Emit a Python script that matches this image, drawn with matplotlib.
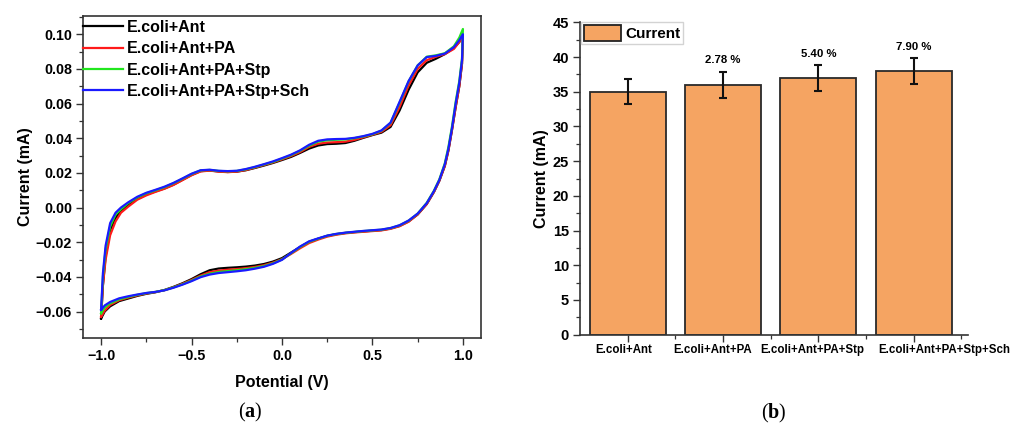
import numpy as np
import matplotlib
matplotlib.use("Agg")
import matplotlib.pyplot as plt
from matplotlib.ticker import MultipleLocator, FixedLocator
from matplotlib.transforms import ScaledTranslation

plt.rcParams['font.family'] = ['Liberation Sans', 'DejaVu Sans']
plt.rcParams['font.weight'] = 'bold'
plt.rcParams['mathtext.fontset'] = 'custom'
plt.rcParams['mathtext.rm'] = 'Liberation Serif'
plt.rcParams['mathtext.bf'] = 'Liberation Serif:bold'

# ---------------- Panel (a): cyclic voltammograms ----------------
series_names = ["E.coli+Ant", "E.coli+Ant+PA", "E.coli+Ant+PA+Stp", "E.coli+Ant+PA+Stp+Sch"]
series_colors = ["#000000", "#ff1a1a", "#22e61e", "#1a1aff"]

# forward (anodic) sweep potentials, V
pot_fwd = [-1.0, -0.99, -0.975, -0.95, -0.92, -0.89, -0.85, -0.8, -0.75, -0.7, -0.65, -0.6,
           -0.55, -0.5, -0.45, -0.4, -0.35, -0.3, -0.25, -0.2, -0.15, -0.1, -0.05, 0.0,
           0.05, 0.1, 0.15, 0.2, 0.25, 0.3, 0.35, 0.4, 0.45, 0.5, 0.55, 0.6, 0.65, 0.7,
           0.75, 0.8, 0.85, 0.9, 0.95, 0.98, 1.0]
# reverse (cathodic) sweep potentials, V
pot_rev = [1.0, 0.995, 0.98, 0.96, 0.94, 0.92, 0.9, 0.87, 0.84, 0.8, 0.75, 0.7, 0.65, 0.6,
           0.55, 0.5, 0.45, 0.4, 0.35, 0.3, 0.25, 0.2, 0.15, 0.1, 0.05, 0.0, -0.05, -0.1,
           -0.15, -0.2, -0.25, -0.3, -0.35, -0.4, -0.45, -0.5, -0.55, -0.6, -0.65, -0.7,
           -0.75, -0.8, -0.85, -0.9, -0.95, -0.98, -1.0]

cur_fwd_ant = [-0.064, -0.045, -0.028, -0.013, -0.006, -0.002, 0.0015, 0.005, 0.0075, 0.0093,
               0.011, 0.0132, 0.016, 0.0188, 0.021, 0.0214, 0.0208, 0.0205, 0.0207, 0.0215,
               0.0228, 0.0242, 0.0257, 0.0274, 0.0292, 0.0315, 0.034, 0.0358, 0.0366, 0.0368,
               0.0372, 0.0385, 0.0402, 0.0418, 0.0432, 0.0465, 0.056, 0.068, 0.078, 0.0835,
               0.0858, 0.0885, 0.092, 0.0955, 0.099]
cur_rev_ant = [0.099, 0.083, 0.070, 0.058, 0.045, 0.033, 0.024, 0.0155, 0.009, 0.002, -0.004,
               -0.008, -0.0106, -0.0121, -0.013, -0.0134, -0.0138, -0.0142, -0.0147, -0.0154,
               -0.0164, -0.018, -0.0198, -0.0228, -0.026, -0.0292, -0.0312, -0.0326, -0.0335,
               -0.0341, -0.0345, -0.0348, -0.0352, -0.0362, -0.0385, -0.0413, -0.0437, -0.0458,
               -0.0476, -0.0489, -0.0498, -0.051, -0.0525, -0.054, -0.057, -0.060, -0.064]

cur_fwd_pa = [-0.063, -0.045, -0.030, -0.016, -0.008, -0.003, 0.0005, 0.0045, 0.007, 0.009,
              0.0108, 0.013, 0.0158, 0.0186, 0.0208, 0.0213, 0.0207, 0.0204, 0.0207, 0.0216,
              0.023, 0.0245, 0.026, 0.0278, 0.0297, 0.032, 0.035, 0.0368, 0.0375, 0.0377,
              0.038, 0.039, 0.0405, 0.042, 0.0437, 0.0475, 0.058, 0.0705, 0.080, 0.085,
              0.087, 0.0885, 0.0915, 0.0955, 0.098]
cur_rev_pa = [0.098, 0.083, 0.070, 0.058, 0.045, 0.033, 0.024, 0.0155, 0.009, 0.002, -0.004,
              -0.0082, -0.0108, -0.0123, -0.0132, -0.0136, -0.014, -0.0144, -0.0149, -0.0157,
              -0.0168, -0.0185, -0.0205, -0.0235, -0.0268, -0.0298, -0.0318, -0.0333, -0.0343,
              -0.035, -0.0355, -0.0359, -0.0364, -0.0373, -0.0393, -0.0418, -0.044, -0.046,
              -0.0477, -0.0488, -0.0496, -0.0507, -0.052, -0.0535, -0.0562, -0.0595, -0.063]

cur_fwd_stp = [-0.061, -0.040, -0.024, -0.011, -0.004, -0.001, 0.0025, 0.0058, 0.0082, 0.0099,
               0.0117, 0.014, 0.0166, 0.0193, 0.0214, 0.0217, 0.0211, 0.0209, 0.0211, 0.022,
               0.0233, 0.0248, 0.0263, 0.0282, 0.0302, 0.0327, 0.0357, 0.038, 0.0388, 0.0391,
               0.0393, 0.040, 0.041, 0.0423, 0.0443, 0.0488, 0.0605, 0.0728, 0.082, 0.087,
               0.0878, 0.089, 0.093, 0.098, 0.103]
cur_rev_stp = [0.103, 0.086, 0.073, 0.061, 0.047, 0.035, 0.0255, 0.0163, 0.0097, 0.0027, -0.0035,
               -0.0076, -0.0103, -0.0119, -0.0128, -0.0132, -0.0136, -0.0141, -0.0146, -0.0153,
               -0.0163, -0.018, -0.0198, -0.0228, -0.0264, -0.030, -0.0322, -0.0338, -0.0348,
               -0.0356, -0.0362, -0.0367, -0.0372, -0.0382, -0.0398, -0.0422, -0.0443, -0.0461,
               -0.0477, -0.0487, -0.0494, -0.0504, -0.0516, -0.053, -0.0553, -0.0577, -0.061]

cur_fwd_sch = [-0.059, -0.038, -0.022, -0.009, -0.003, 0.000, 0.003, 0.0062, 0.0085, 0.0102,
               0.012, 0.0142, 0.0168, 0.0195, 0.0215, 0.0218, 0.0212, 0.021, 0.0212, 0.0222,
               0.0235, 0.025, 0.0266, 0.0285, 0.0305, 0.033, 0.0362, 0.0385, 0.0393, 0.0395,
               0.0396, 0.0402, 0.0412, 0.0425, 0.0445, 0.049, 0.061, 0.073, 0.082, 0.0868,
               0.0875, 0.0888, 0.0925, 0.0965, 0.100]
cur_rev_sch = [0.100, 0.085, 0.072, 0.060, 0.046, 0.034, 0.025, 0.016, 0.0095, 0.0025, -0.0035,
               -0.0075, -0.0102, -0.0118, -0.0127, -0.0131, -0.0135, -0.014, -0.0145, -0.0152,
               -0.0162, -0.0178, -0.0195, -0.0225, -0.0262, -0.0302, -0.0325, -0.0342, -0.0353,
               -0.0362, -0.0368, -0.0373, -0.0378, -0.0387, -0.0402, -0.0425, -0.0445, -0.0463,
               -0.0478, -0.0487, -0.0493, -0.0502, -0.0512, -0.0524, -0.0545, -0.0565, -0.059]

cur_fwd = [cur_fwd_ant, cur_fwd_pa, cur_fwd_stp, cur_fwd_sch]
cur_rev = [cur_rev_ant, cur_rev_pa, cur_rev_stp, cur_rev_sch]

# ---------------- Panel (b): peak currents ----------------
bar_labels = ["E.coli+Ant", "E.coli+Ant+PA", "E.coli+Ant+PA+Stp", "E.coli+Ant+PA+Stp+Sch"]
bar_values = [35.0, 36.0, 37.0, 38.0]
bar_errors = [1.8, 1.9, 1.9, 1.9]
pct_labels = ["", "2.78 %", "5.40 %", "7.90 %"]

W, H = 1029, 428
fig = plt.figure(figsize=(W / 100, H / 100), dpi=100)

# --- (a)
axa = fig.add_axes([83 / W, 1 - 337.5 / H, (481 - 83) / W, (337.5 - 16) / H])
for name, col, cf, cr in zip(series_names, series_colors, cur_fwd, cur_rev):
    x = list(pot_fwd) + list(pot_rev)
    y = list(cf) + list(cr)
    axa.plot(x, y, color=col, lw=1.6, label=name, solid_joinstyle='round')
axa.set_xlim(-1.1, 1.1)
axa.set_ylim(-0.075, 0.1105)
axa.xaxis.set_major_locator(FixedLocator([-1.0, -0.5, 0.0, 0.5, 1.0]))
axa.xaxis.set_minor_locator(MultipleLocator(0.25))
axa.yaxis.set_major_locator(FixedLocator([-0.06, -0.04, -0.02, 0.0, 0.02, 0.04, 0.06, 0.08, 0.10]))
axa.yaxis.set_minor_locator(MultipleLocator(0.01))
axa.set_xticklabels(["\u22121.0", "\u22120.5", "0.0", "0.5", "1.0"])
axa.set_yticklabels(["\u22120.06", "\u22120.04", "\u22120.02", "0.00", "0.02", "0.04", "0.06", "0.08", "0.10"])
axa.tick_params(which='major', direction='out', length=5, width=1.0, labelsize=10.3, pad=3, color='#333333')
axa.tick_params(which='minor', direction='out', length=3, width=0.9, color='#333333')
for lab in axa.get_xticklabels() + axa.get_yticklabels():
    lab.set_fontweight('bold')
for sp in axa.spines.values():
    sp.set_linewidth(1.2)
    sp.set_color('#333333')
axa.set_xlabel("Potential (V)", fontsize=11.5, fontweight='bold')
axa.set_ylabel("Current (mA)", fontsize=11.5, fontweight='bold')
axa.xaxis.set_label_coords(0.5, -0.117)
axa.yaxis.set_label_coords(-0.126, 0.5)
leg = axa.legend(loc='upper left', bbox_to_anchor=(-0.003, 0.993), frameon=False,
                 prop={'weight': 'bold', 'size': 11.5}, handlelength=2.45, handletextpad=0.3,
                 labelspacing=0.4, borderaxespad=0.0, borderpad=0.1)

# --- (b)
axb = fig.add_axes([580 / W, 1 - 334.7 / H, (968 - 580) / W, (334.7 - 22.3) / H])
xpos = np.arange(len(bar_values))
axb.bar(xpos, bar_values, width=0.8, color='#F5A462', edgecolor='#2a2a2a', linewidth=1.3,
        label='Current', zorder=2)
axb.errorbar(xpos, bar_values, yerr=bar_errors, fmt='none', ecolor='#111111', elinewidth=1.5,
             capsize=3, capthick=1.5, zorder=3)
for xi, v, e, t in zip(xpos, bar_values, bar_errors, pct_labels):
    if t:
        axb.text(xi, v + e + 1.6, t, ha='center', va='center', fontsize=8.2, fontweight='bold')
axb.set_xlim(-0.5, 3.57)
axb.set_ylim(0, 45)
axb.set_xticks(xpos)
axb.set_xticklabels(bar_labels, fontsize=8.3, fontweight='bold')
axb.xaxis.set_minor_locator(FixedLocator([0.5, 1.5, 2.5, 3.5]))
axb.yaxis.set_major_locator(MultipleLocator(5))
axb.yaxis.set_minor_locator(MultipleLocator(2.5))
axb.tick_params(which='major', direction='out', length=5, width=1.0, labelsize=10.5, pad=3, color='#333333')
axb.tick_params(axis='x', which='major', labelsize=8.3, pad=2)
axb.tick_params(which='minor', direction='out', length=3, width=0.9, color='#333333')
for lab in axb.get_yticklabels():
    lab.set_fontweight('bold')
# label offsets (px) as in the original layout, last label shifted right to avoid overlap
for lab, dx in zip(axb.get_xticklabels(), [-4, -10, -6, 31]):
    lab.set_transform(lab.get_transform() + ScaledTranslation(dx / 100, 0, fig.dpi_scale_trans))
axb.spines['top'].set_visible(False)
axb.spines['right'].set_visible(False)
for s in ['left', 'bottom']:
    axb.spines[s].set_linewidth(1.2)
    axb.spines[s].set_color('#333333')
axb.set_ylabel("Current (mA)", fontsize=11.5, fontweight='bold')
axb.yaxis.set_label_coords(-0.08, 0.5)
lg = axb.legend(loc='upper left', bbox_to_anchor=(0.003, 1.0), frameon=True, fancybox=False,
                prop={'weight': 'bold', 'size': 11}, handlelength=2.4, handleheight=1.2,
                handletextpad=0.3, borderpad=0.18, borderaxespad=0.0)
lg.get_frame().set_edgecolor('#c8c8c8')
lg.get_frame().set_linewidth(1.0)
for p in lg.get_patches():
    p.set_edgecolor('#222222')

# panel labels
fig.text(250 / W, 1 - 412 / H, r"($\mathbf{a}$)", ha='center', va='center', fontsize=14.5,
         family='Liberation Serif', fontweight='normal')
fig.text(774 / W, 1 - 413 / H, r"($\mathbf{b}$)", ha='center', va='center', fontsize=14.5,
         family='Liberation Serif', fontweight='normal')

fig.savefig("out.png", dpi=100)
